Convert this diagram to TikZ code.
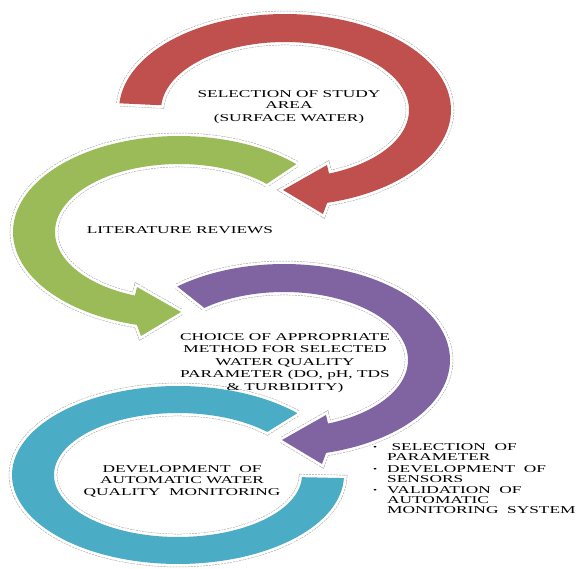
\documentclass[tikz,border=0pt]{standalone}
\usepackage{fontspec}
\setmainfont{Liberation Serif}[FakeStretch=1.65]
\definecolor{cred}{RGB}{192,80,77}
\definecolor{cgreen}{RGB}{155,187,89}
\definecolor{cpurple}{RGB}{128,100,162}
\definecolor{cblue}{RGB}{75,172,198}
\tikzset{
  outl/.style={line join=round,
    preaction={draw=gray!75, line width=6.4pt, dash pattern=on 2pt off 1pt},
    preaction={draw=white, line width=5.4pt}},
  lbl/.style={align=center, inner sep=0pt, font=\fontsize{10.5}{11.5}\selectfont},
  blt/.style={align=left, inner sep=0pt, anchor=north west, font=\fontsize{10.5}{10.3}\selectfont},
}
% cx, cy, xscale, start angle, colour
\newcommand{\CircArrow}[5]{%
  \begin{scope}[shift={(#1,#2)}, xscale=#3]
  \path[outl, fill=#5]
    plot[domain=#4:435.3, samples=90] ({166*cos(\x)},{96*sin(\x)})
    -- (38,104) -- (-2,80) -- (42,55)
    -- plot[domain=429.2:#4, samples=90] ({124*cos(\x)},{68*sin(\x)}) -- cycle;
  \end{scope}}
\newcommand{\bul}{\makebox[15pt][l]{\hspace*{1pt}\raisebox{0.5pt}{\fontsize{7}{7}\selectfont •}}}
\begin{document}
\begin{tikzpicture}[x=1pt, y=-1pt]
\useasboundingbox (0,0) rectangle (576,569);
\fill[white] (0,0) rectangle (576,569);
% red
\CircArrow{285}{110}{1}{184}{cred}
% green
\CircArrow{179}{232}{-1}{225}{cgreen}
% purple
\CircArrow{284}{360}{1}{230}{cpurple}
% blue (ring without head)
\begin{scope}[shift={(178,475)}, xscale=-1]
\path[outl, fill=cblue]
  plot[domain=224:538, samples=120] ({166*cos(\x)},{89*sin(\x)})
  -- plot[domain=538:224, samples=120] ({124*cos(\x)},{62*sin(\x)}) -- cycle;
\end{scope}
% texts
\node[lbl] (t1) at (289,107) {SELECTION OF STUDY\\AREA\\[1pt](SURFACE WATER)};
\node[lbl] (t2) at (180,230) {LITERATURE REVIEWS};
\node[lbl, font=\fontsize{10.5}{12.5}\selectfont] (t3) at (285,363)
  {CHOICE OF APPROPRIATE\\METHOD FOR SELECTED\\WATER QUALITY\\PARAMETER (DO, pH, TDS\\\& TURBIDITY)};
\node[lbl] (t4) at (182,481) {DEVELOPMENT\ \ OF\\AUTOMATIC WATER\\QUALITY\ \ MONITORING};
\node[blt] (t5) at (372,443) {\bul\ SELECTION\ \ OF\\
\hspace*{15pt}PARAMETER\\[1.5pt]
\bul DEVELOPMENT\ \ OF\\
\hspace*{15pt}SENSORS\\[0.5pt]
\bul VALIDATION\ \ OF\\
\hspace*{15pt}AUTOMATIC\\
\hspace*{15pt}MONITORING\ \ SYSTEM};
\end{tikzpicture}
\end{document}
